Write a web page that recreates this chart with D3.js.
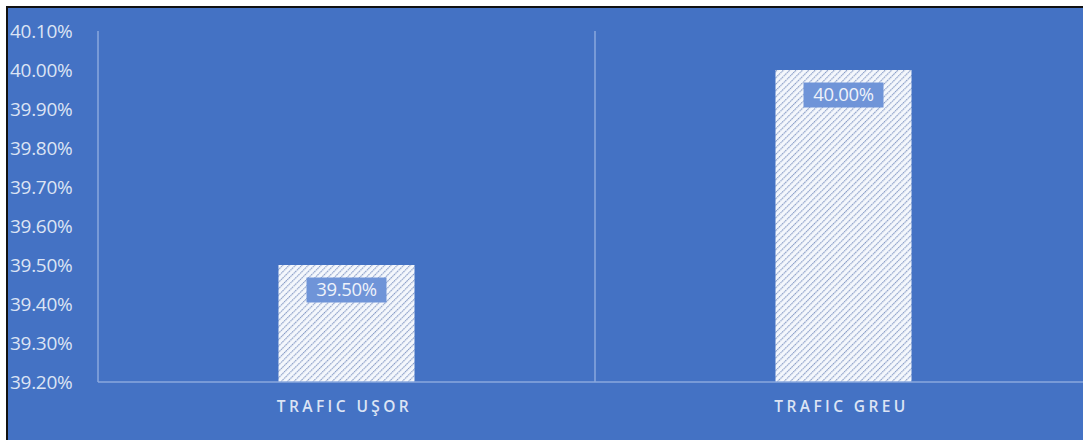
<!DOCTYPE html>
<html><head><meta charset="utf-8">
<script src="https://cdn.jsdelivr.net/npm/d3@7"></script>
<style>body{margin:0;background:#fff;}svg{display:block;}</style>
</head><body>
<svg id="chart" width="1083" height="440"></svg>
<script>
const categories = ["TRAFIC UŞOR", "TRAFIC GREU"];
const values = [39.50, 40.00];
const dataLabels = ["39.50%", "40.00%"];
const tickValues = [39.2, 39.3, 39.4, 39.5, 39.6, 39.7, 39.8, 39.9, 40.0, 40.1];

(function () {
const svg = d3.select("#chart");
const W = 1083, H = 440;
const bg = "#4472C4";
const textCol = "#DCE4F4";
const lineCol = "#8AA8DE";

// frame
svg.append("rect").attr("x", 0).attr("y", 0).attr("width", W).attr("height", H).attr("fill", "#fff");
svg.append("rect").attr("x", 6).attr("y", 6).attr("width", W - 6).attr("height", H - 6).attr("fill", "#111");
svg.append("rect").attr("x", 8).attr("y", 8).attr("width", W - 8).attr("height", H - 8).attr("fill", bg);

// pattern
const defs = svg.append("defs");
const pat = defs.append("pattern").attr("id", "hatch").attr("patternUnits", "userSpaceOnUse")
  .attr("width", 4.5).attr("height", 4.5).attr("patternTransform", "rotate(45)");
pat.append("rect").attr("width", 4.5).attr("height", 4.5).attr("fill", "#F4F7FC");
pat.append("line").attr("x1", 0).attr("y1", 0).attr("x2", 0).attr("y2", 4.5)
  .attr("stroke", "#8398C4").attr("stroke-width", 2.2).attr("stroke-dasharray", "1.5,0.8");

const pLeft = 98, pRight = 1092, pTop = 31, pBottom = 382;
const x = d3.scaleBand().domain(categories).range([pLeft, pRight]).paddingInner(0).paddingOuter(0);
const y = d3.scaleLinear().domain([39.2, 40.1]).range([pBottom, pTop]);
const barW = 136;

// axes lines
svg.append("line").attr("x1", pLeft).attr("x2", pLeft).attr("y1", y(40.1)).attr("y2", pBottom)
  .attr("stroke", lineCol).attr("stroke-width", 1.5);
svg.append("line").attr("x1", x(categories[1])).attr("x2", x(categories[1])).attr("y1", y(40.1)).attr("y2", pBottom)
  .attr("stroke", lineCol).attr("stroke-width", 1.5);

// y tick labels
const yAxis = d3.axisLeft(y).tickValues(tickValues).tickSize(0).tickFormat(d => d3.format(".2f")(d) + "%");
const ga = svg.append("g").attr("transform", `translate(${pLeft},0)`).call(yAxis);
ga.select(".domain").remove();
ga.selectAll("text").attr("x", 10 - pLeft).attr("text-anchor", "start")
  .attr("fill", textCol).attr("font-family", "'Open Sans', sans-serif").attr("font-size", 19)
  .attr("letter-spacing", "-0.3px").attr("dy", "0.35em");

// bars
svg.selectAll(".bar").data(values).enter().append("rect")
  .attr("x", (d, i) => x(categories[i]) + x.bandwidth() / 2 - barW / 2)
  .attr("y", d => y(d))
  .attr("width", barW)
  .attr("height", d => pBottom - y(d))
  .attr("fill", "url(#hatch)");

// baseline
svg.append("line").attr("x1", pLeft).attr("x2", W).attr("y1", pBottom).attr("y2", pBottom)
  .attr("stroke", lineCol).attr("stroke-width", 1.5);

// data labels
values.forEach((v, i) => {
  const cx = x(categories[i]) + x.bandwidth() / 2;
  const cy = y(v) + 25;
  svg.append("rect").attr("x", cx - 40).attr("y", cy - 12.5).attr("width", 80).attr("height", 25)
    .attr("fill", "#6F94D8");
  svg.append("text").attr("x", cx).attr("y", cy).attr("dy", "0.35em").attr("text-anchor", "middle")
    .attr("fill", "#EEF2FA").attr("font-family", "'Open Sans', sans-serif").attr("font-size", 18.5)
    .attr("letter-spacing", "-0.3px").text(dataLabels[i]);
});

// category labels
const xAxis = d3.axisBottom(x).tickSize(0);
const gx = svg.append("g").attr("transform", `translate(0,${pBottom})`).call(xAxis);
gx.select(".domain").remove();
gx.selectAll("text").attr("y", 25).attr("dy", "0.35em").attr("dx", "-2px")
  .attr("fill", textCol).attr("font-family", "'Open Sans', sans-serif").attr("font-size", 15.5)
  .attr("font-weight", 600).attr("letter-spacing", "3.4px");
})();
</script>
</body></html>
